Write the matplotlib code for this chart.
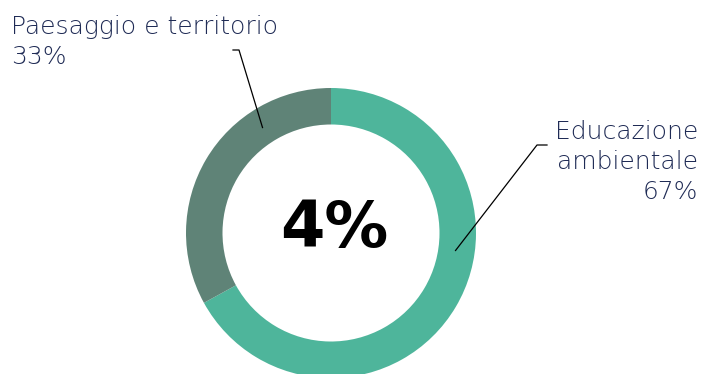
import numpy as np
import matplotlib
matplotlib.use("Agg")
import matplotlib.pyplot as plt

# Share of projects by theme
categories = ["Educazione ambientale", "Paesaggio e territorio"]
values = [67, 33]
label_lines = [["Educazione", "ambientale"], ["Paesaggio e territorio"]]
center_label = "4%"

colors = ["#4eb59b", "#5f8377"]
text_color = "#1f2b55"

W, H = 702, 374
fig = plt.figure(figsize=(W / 100, H / 100), dpi=100)
ax = fig.add_axes([0, 0, 1, 1])

cx, cy = 331, H - 233
r_out, ring = 145, 36.5
ax.pie(values, colors=colors, startangle=90, counterclock=False,
       radius=r_out, center=(cx, cy), frame=True,
       wedgeprops=dict(width=ring, linewidth=0))
ax.set_xlim(0, W)
ax.set_ylim(0, H)
ax.set_aspect("equal")
ax.axis("off")

ax.text(cx + 3, cy + 4, center_label, ha="center", va="center",
        fontsize=46, fontweight="heavy", family="DejaVu Sans", color="black")

pcts = [f"{round(v / sum(values) * 100)}%" for v in values]
font = dict(family="DejaVu Sans", fontweight="light", color=text_color, fontsize=18)

# leader lines: from a point on the ring to the label elbow
r_mid = r_out - ring / 2 - 1
def ring_point(angle_deg):
    a = np.radians(angle_deg)
    return cx + r_mid * np.cos(a), cy + r_mid * np.sin(a)

# right label (Educazione ambientale)
x0, y0 = ring_point(-8)
ax.plot([x0, 537, 547], [y0, H - 145, H - 145], color="black", lw=0.9)
lines = label_lines[0] + [pcts[0]]
for i, t in enumerate(lines):
    ax.text(698, H - 139 - 30 * i, t, ha="right", va="baseline", **font)

# left label (Paesaggio e territorio)
x1, y1 = ring_point(123)
ax.plot([x1, 239, 233], [y1, H - 50, H - 50], color="black", lw=0.9)
lines = label_lines[1] + [pcts[1]]
for i, t in enumerate(lines):
    ax.text(11, H - 34 - 30 * i, t, ha="left", va="baseline", **font)

fig.savefig("out.png", dpi=100)
